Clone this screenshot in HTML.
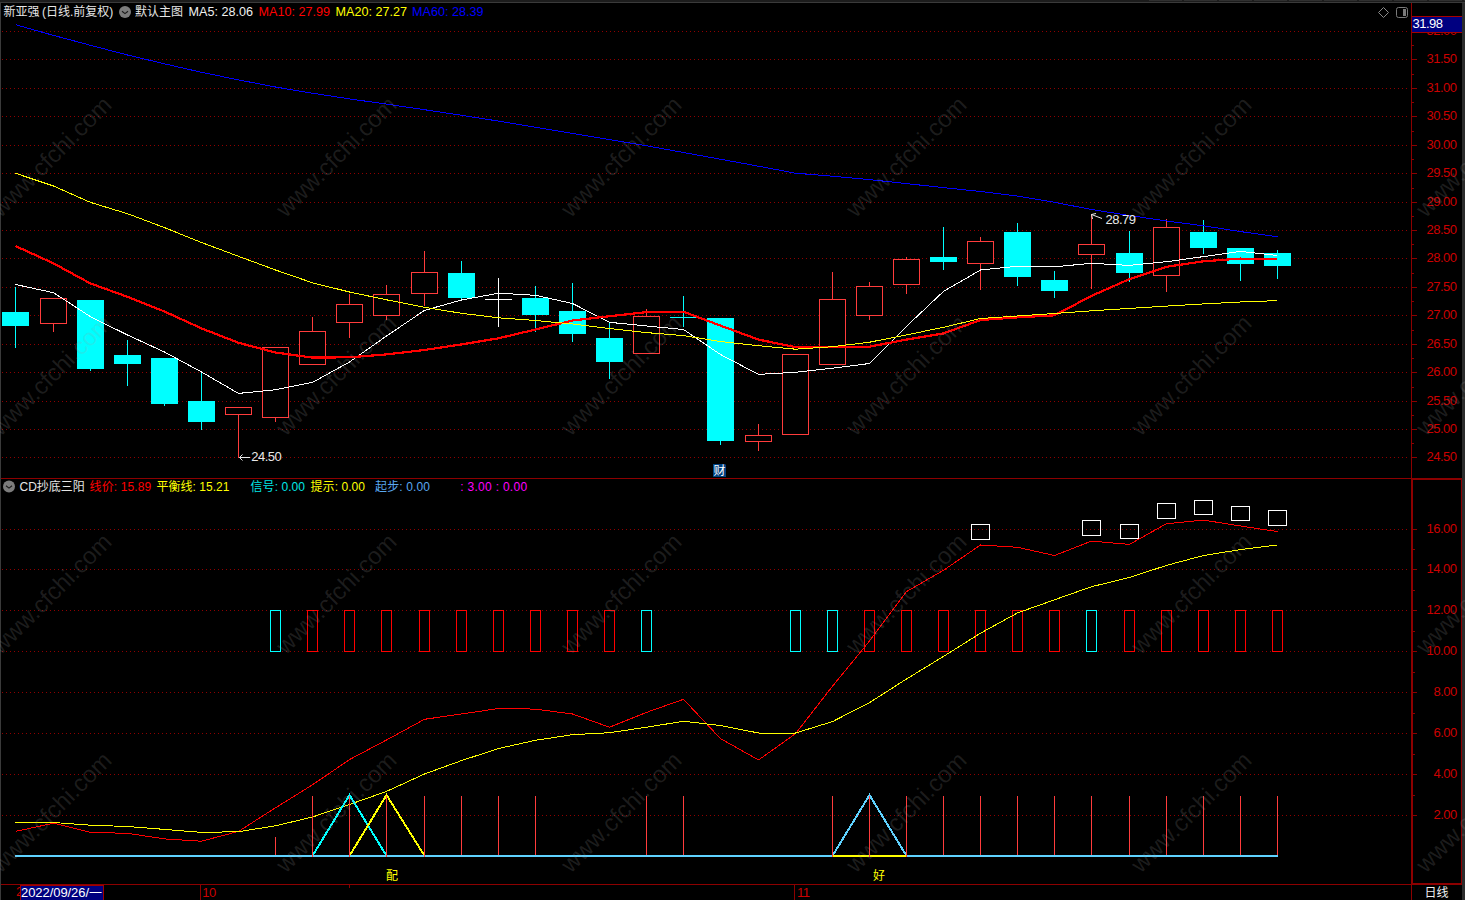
<!DOCTYPE html>
<html lang="zh"><head><meta charset="utf-8"><title>新亚强 日线</title>
<style>html,body{margin:0;padding:0;background:#000;overflow:hidden}body{width:1465px;height:900px;position:relative}</style></head>
<body>
<svg width="1465" height="900" viewBox="0 0 1465 900" style="position:absolute;left:0;top:0;display:block">
<rect width="1465" height="900" fill="#000"/>
<rect x="0" y="0" width="1465" height="2" fill="#1c1c1c"/>
<rect x="0" y="2" width="1465" height="1" fill="#3a3a3a"/>
<rect x="1149" y="0" width="33" height="1" fill="#303030"/>
<rect x="1184" y="0" width="33" height="1" fill="#303030"/>
<rect x="1219" y="0" width="33" height="1" fill="#303030"/>
<rect x="1254" y="0" width="33" height="1" fill="#303030"/>
<rect x="1289" y="0" width="33" height="1" fill="#303030"/>
<rect x="1324" y="0" width="33" height="1" fill="#303030"/>
<rect x="1359" y="0" width="33" height="1" fill="#303030"/>
<rect x="1394" y="0" width="33" height="1" fill="#303030"/>
<rect x="1429" y="0" width="33" height="1" fill="#303030"/>
<rect x="1464" y="0" width="33" height="1" fill="#303030"/>
<rect x="0" y="3" width="1" height="897" fill="#3a3a3a"/>
<rect x="1462" y="3" width="3" height="897" fill="#2c2c2c"/>
<g stroke="#900000" stroke-width="1" stroke-dasharray="1 3" shape-rendering="crispEdges">
<line x1="2" x2="1408" y1="31.5" y2="31.5"/>
<line x1="2" x2="1408" y1="59.5" y2="59.5"/>
<line x1="2" x2="1408" y1="88.5" y2="88.5"/>
<line x1="2" x2="1408" y1="116.5" y2="116.5"/>
<line x1="2" x2="1408" y1="145.5" y2="145.5"/>
<line x1="2" x2="1408" y1="173.5" y2="173.5"/>
<line x1="2" x2="1408" y1="202.5" y2="202.5"/>
<line x1="2" x2="1408" y1="230.5" y2="230.5"/>
<line x1="2" x2="1408" y1="258.5" y2="258.5"/>
<line x1="2" x2="1408" y1="287.5" y2="287.5"/>
<line x1="2" x2="1408" y1="315.5" y2="315.5"/>
<line x1="2" x2="1408" y1="344.5" y2="344.5"/>
<line x1="2" x2="1408" y1="372.5" y2="372.5"/>
<line x1="2" x2="1408" y1="401.5" y2="401.5"/>
<line x1="2" x2="1408" y1="429.5" y2="429.5"/>
<line x1="2" x2="1408" y1="457.5" y2="457.5"/>
<line x1="2" x2="1408" y1="529.5" y2="529.5"/>
<line x1="2" x2="1408" y1="569.5" y2="569.5"/>
<line x1="2" x2="1408" y1="610.5" y2="610.5"/>
<line x1="2" x2="1408" y1="651.5" y2="651.5"/>
<line x1="2" x2="1408" y1="692.5" y2="692.5"/>
<line x1="2" x2="1408" y1="733.5" y2="733.5"/>
<line x1="2" x2="1408" y1="774.5" y2="774.5"/>
<line x1="2" x2="1408" y1="815.5" y2="815.5"/>
</g>
<g stroke="#8c0000" stroke-width="1" shape-rendering="crispEdges" fill="none">
<line x1="1411.5" x2="1411.5" y1="3" y2="900"/>
<line x1="1" x2="1412" y1="478.5" y2="478.5"/>
<line x1="1" x2="1412" y1="884.5" y2="884.5"/>
<path d="M1411 478 h51 v407 h-51 z M1413 480 v403 h48 v-403 z" fill="#8c0000" fill-rule="evenodd" stroke="none"/>
<line x1="1412" x2="1414" y1="45.5" y2="45.5"/>
<line x1="1412" x2="1417" y1="59.5" y2="59.5"/>
<line x1="1412" x2="1414" y1="74.5" y2="74.5"/>
<line x1="1412" x2="1417" y1="88.5" y2="88.5"/>
<line x1="1412" x2="1414" y1="102.5" y2="102.5"/>
<line x1="1412" x2="1417" y1="116.5" y2="116.5"/>
<line x1="1412" x2="1414" y1="131.5" y2="131.5"/>
<line x1="1412" x2="1417" y1="145.5" y2="145.5"/>
<line x1="1412" x2="1414" y1="159.5" y2="159.5"/>
<line x1="1412" x2="1417" y1="173.5" y2="173.5"/>
<line x1="1412" x2="1414" y1="188.5" y2="188.5"/>
<line x1="1412" x2="1417" y1="202.5" y2="202.5"/>
<line x1="1412" x2="1414" y1="216.5" y2="216.5"/>
<line x1="1412" x2="1417" y1="230.5" y2="230.5"/>
<line x1="1412" x2="1414" y1="244.5" y2="244.5"/>
<line x1="1412" x2="1417" y1="258.5" y2="258.5"/>
<line x1="1412" x2="1414" y1="273.5" y2="273.5"/>
<line x1="1412" x2="1417" y1="287.5" y2="287.5"/>
<line x1="1412" x2="1414" y1="301.5" y2="301.5"/>
<line x1="1412" x2="1417" y1="315.5" y2="315.5"/>
<line x1="1412" x2="1414" y1="330.5" y2="330.5"/>
<line x1="1412" x2="1417" y1="344.5" y2="344.5"/>
<line x1="1412" x2="1414" y1="358.5" y2="358.5"/>
<line x1="1412" x2="1417" y1="372.5" y2="372.5"/>
<line x1="1412" x2="1414" y1="387.5" y2="387.5"/>
<line x1="1412" x2="1417" y1="401.5" y2="401.5"/>
<line x1="1412" x2="1414" y1="415.5" y2="415.5"/>
<line x1="1412" x2="1417" y1="429.5" y2="429.5"/>
<line x1="1412" x2="1414" y1="443.5" y2="443.5"/>
<line x1="1412" x2="1417" y1="457.5" y2="457.5"/>
<line x1="1413" x2="1417" y1="529.5" y2="529.5"/>
<line x1="1413" x2="1415" y1="549.5" y2="549.5"/>
<line x1="1413" x2="1417" y1="569.5" y2="569.5"/>
<line x1="1413" x2="1415" y1="590.5" y2="590.5"/>
<line x1="1413" x2="1417" y1="610.5" y2="610.5"/>
<line x1="1413" x2="1415" y1="631.5" y2="631.5"/>
<line x1="1413" x2="1417" y1="651.5" y2="651.5"/>
<line x1="1413" x2="1415" y1="672.5" y2="672.5"/>
<line x1="1413" x2="1417" y1="692.5" y2="692.5"/>
<line x1="1413" x2="1415" y1="713.5" y2="713.5"/>
<line x1="1413" x2="1417" y1="733.5" y2="733.5"/>
<line x1="1413" x2="1415" y1="754.5" y2="754.5"/>
<line x1="1413" x2="1417" y1="774.5" y2="774.5"/>
<line x1="1413" x2="1415" y1="795.5" y2="795.5"/>
<line x1="1413" x2="1417" y1="815.5" y2="815.5"/>
<line x1="200.5" x2="200.5" y1="885" y2="900"/>
<line x1="794.5" x2="794.5" y1="885" y2="900"/>
<line x1="349.5" x2="349.5" y1="885" y2="888"/>
</g>
<g fill="#cc0000" font-family="Liberation Sans, sans-serif" font-size="13" letter-spacing="-0.5">
<text x="1426.5" y="63.1">31.50</text>
<text x="1426.5" y="92.1">31.00</text>
<text x="1426.5" y="120.1">30.50</text>
<text x="1426.5" y="149.1">30.00</text>
<text x="1426.5" y="177.1">29.50</text>
<text x="1426.5" y="206.1">29.00</text>
<text x="1426.5" y="234.1">28.50</text>
<text x="1426.5" y="262.1">28.00</text>
<text x="1426.5" y="291.1">27.50</text>
<text x="1426.5" y="319.1">27.00</text>
<text x="1426.5" y="348.1">26.50</text>
<text x="1426.5" y="376.1">26.00</text>
<text x="1426.5" y="405.1">25.50</text>
<text x="1426.5" y="433.1">25.00</text>
<text x="1426.5" y="461.1">24.50</text>
<text x="1426.5" y="533.1">16.00</text>
<text x="1426.5" y="573.1">14.00</text>
<text x="1426.5" y="614.1">12.00</text>
<text x="1426.5" y="655.1">10.00</text>
<text x="1433.5" y="696.1">8.00</text>
<text x="1433.5" y="737.1">6.00</text>
<text x="1433.5" y="778.1">4.00</text>
<text x="1433.5" y="819.1">2.00</text>
</g>
<text x="1426.5" y="34.8" fill="#cc0000" font-family="Liberation Sans, sans-serif" font-size="13" letter-spacing="-0.5">32.00</text>
<rect x="1412" y="16" width="50" height="17" fill="#000080"/>
<g stroke="#a80000" shape-rendering="crispEdges"><line x1="1412" x2="1462" y1="16.5" y2="16.5"/><line x1="1412" x2="1462" y1="32.5" y2="32.5"/></g>
<text x="1412.5" y="27.8" fill="#fff" font-family="Liberation Sans, sans-serif" font-size="13" letter-spacing="-0.5">31.98</text>
<g shape-rendering="crispEdges" stroke-width="1" fill="none">
<line x1="15.5" x2="15.5" y1="287" y2="348" stroke="#00ffff"/>
<rect x="2" y="312" width="27" height="14" fill="#00ffff"/>
<line x1="53.5" x2="53.5" y1="324" y2="332" stroke="#ff3c3c"/>
<rect x="40.5" y="298.5" width="26" height="25" stroke="#ff3c3c" fill="#000"/>
<line x1="90.5" x2="90.5" y1="300" y2="371" stroke="#00ffff"/>
<rect x="77" y="300" width="27" height="69" fill="#00ffff"/>
<line x1="127.5" x2="127.5" y1="340" y2="386" stroke="#00ffff"/>
<rect x="114" y="355" width="27" height="9" fill="#00ffff"/>
<line x1="164.5" x2="164.5" y1="358" y2="406" stroke="#00ffff"/>
<rect x="151" y="358" width="27" height="46" fill="#00ffff"/>
<line x1="201.5" x2="201.5" y1="372" y2="430" stroke="#00ffff"/>
<rect x="188" y="401" width="27" height="21" fill="#00ffff"/>
<line x1="238.5" x2="238.5" y1="415" y2="458" stroke="#ff3c3c"/>
<rect x="225.5" y="407.5" width="26" height="7" stroke="#ff3c3c" fill="#000"/>
<line x1="275.5" x2="275.5" y1="418" y2="422" stroke="#ff3c3c"/>
<rect x="262.5" y="347.5" width="26" height="70" stroke="#ff3c3c" fill="#000"/>
<line x1="312.5" x2="312.5" y1="317" y2="331" stroke="#ff3c3c"/>
<rect x="299.5" y="331.5" width="26" height="33" stroke="#ff3c3c" fill="#000"/>
<line x1="349.5" x2="349.5" y1="294" y2="304" stroke="#ff3c3c"/>
<line x1="349.5" x2="349.5" y1="323" y2="338" stroke="#ff3c3c"/>
<rect x="336.5" y="304.5" width="26" height="18" stroke="#ff3c3c" fill="#000"/>
<line x1="386.5" x2="386.5" y1="285" y2="294" stroke="#ff3c3c"/>
<line x1="386.5" x2="386.5" y1="316" y2="320" stroke="#ff3c3c"/>
<rect x="373.5" y="294.5" width="26" height="21" stroke="#ff3c3c" fill="#000"/>
<line x1="424.5" x2="424.5" y1="251" y2="272" stroke="#ff3c3c"/>
<line x1="424.5" x2="424.5" y1="294" y2="306" stroke="#ff3c3c"/>
<rect x="411.5" y="272.5" width="26" height="21" stroke="#ff3c3c" fill="#000"/>
<line x1="461.5" x2="461.5" y1="261" y2="299" stroke="#00ffff"/>
<rect x="448" y="273" width="27" height="25" fill="#00ffff"/>
<line x1="498.5" x2="498.5" y1="278" y2="327" stroke="#ffffff"/>
<line x1="485" x2="512" y1="299.5" y2="299.5" stroke="#ffffff"/>
<line x1="535.5" x2="535.5" y1="286" y2="332" stroke="#00ffff"/>
<rect x="522" y="298" width="27" height="17" fill="#00ffff"/>
<line x1="572.5" x2="572.5" y1="283" y2="342" stroke="#00ffff"/>
<rect x="559" y="311" width="27" height="23" fill="#00ffff"/>
<line x1="609.5" x2="609.5" y1="323" y2="379" stroke="#00ffff"/>
<rect x="596" y="338" width="27" height="24" fill="#00ffff"/>
<line x1="646.5" x2="646.5" y1="309" y2="316" stroke="#ff3c3c"/>
<rect x="633.5" y="316.5" width="26" height="37" stroke="#ff3c3c" fill="#000"/>
<line x1="683.5" x2="683.5" y1="296" y2="327" stroke="#00ffff"/>
<line x1="670" x2="697" y1="317.5" y2="317.5" stroke="#00ffff"/>
<line x1="720.5" x2="720.5" y1="318" y2="445" stroke="#00ffff"/>
<rect x="707" y="318" width="27" height="123" fill="#00ffff"/>
<line x1="758.5" x2="758.5" y1="424" y2="435" stroke="#ff3c3c"/>
<line x1="758.5" x2="758.5" y1="442" y2="451" stroke="#ff3c3c"/>
<rect x="745.5" y="435.5" width="26" height="6" stroke="#ff3c3c" fill="#000"/>
<rect x="782.5" y="354.5" width="26" height="80" stroke="#ff3c3c" fill="#000"/>
<line x1="832.5" x2="832.5" y1="272" y2="299" stroke="#ff3c3c"/>
<rect x="819.5" y="299.5" width="26" height="65" stroke="#ff3c3c" fill="#000"/>
<line x1="869.5" x2="869.5" y1="282" y2="286" stroke="#ff3c3c"/>
<line x1="869.5" x2="869.5" y1="316" y2="320" stroke="#ff3c3c"/>
<rect x="856.5" y="286.5" width="26" height="29" stroke="#ff3c3c" fill="#000"/>
<line x1="906.5" x2="906.5" y1="257" y2="259" stroke="#ff3c3c"/>
<line x1="906.5" x2="906.5" y1="285" y2="294" stroke="#ff3c3c"/>
<rect x="893.5" y="259.5" width="26" height="25" stroke="#ff3c3c" fill="#000"/>
<line x1="943.5" x2="943.5" y1="227" y2="270" stroke="#00ffff"/>
<rect x="930" y="257" width="27" height="5" fill="#00ffff"/>
<line x1="980.5" x2="980.5" y1="237" y2="241" stroke="#ff3c3c"/>
<line x1="980.5" x2="980.5" y1="264" y2="290" stroke="#ff3c3c"/>
<rect x="967.5" y="241.5" width="26" height="22" stroke="#ff3c3c" fill="#000"/>
<line x1="1017.5" x2="1017.5" y1="223" y2="286" stroke="#00ffff"/>
<rect x="1004" y="232" width="27" height="45" fill="#00ffff"/>
<line x1="1054.5" x2="1054.5" y1="271" y2="298" stroke="#00ffff"/>
<rect x="1041" y="280" width="27" height="11" fill="#00ffff"/>
<line x1="1091.5" x2="1091.5" y1="214" y2="244" stroke="#ff3c3c"/>
<line x1="1091.5" x2="1091.5" y1="255" y2="289" stroke="#ff3c3c"/>
<rect x="1078.5" y="244.5" width="26" height="10" stroke="#ff3c3c" fill="#000"/>
<line x1="1129.5" x2="1129.5" y1="231" y2="282" stroke="#00ffff"/>
<rect x="1116" y="253" width="27" height="20" fill="#00ffff"/>
<line x1="1166.5" x2="1166.5" y1="219" y2="227" stroke="#ff3c3c"/>
<line x1="1166.5" x2="1166.5" y1="276" y2="292" stroke="#ff3c3c"/>
<rect x="1153.5" y="227.5" width="26" height="48" stroke="#ff3c3c" fill="#000"/>
<line x1="1203.5" x2="1203.5" y1="220" y2="254" stroke="#00ffff"/>
<rect x="1190" y="232" width="27" height="16" fill="#00ffff"/>
<line x1="1240.5" x2="1240.5" y1="248" y2="281" stroke="#00ffff"/>
<rect x="1227" y="248" width="27" height="16" fill="#00ffff"/>
<line x1="1277.5" x2="1277.5" y1="250" y2="279" stroke="#00ffff"/>
<rect x="1264" y="253" width="27" height="13" fill="#00ffff"/>
</g>
<polyline points="15.5,284.5 53.5,292.7 90.5,316.7 127.5,335.0 164.5,352.0 201.5,372.0 238.5,393.4 275.5,389.8 312.5,382.4 349.5,362.0 386.5,336.0 424.5,310.4 461.5,300.0 498.5,293.2 535.5,295.3 572.5,303.5 609.5,322.3 646.5,326.0 683.5,329.5 720.5,354.5 758.5,374.4 795.5,372.3 832.5,368.2 869.5,363.5 906.5,326.3 943.5,291.4 980.5,270.0 1017.5,266.2 1054.5,266.8 1091.5,263.3 1129.5,265.4 1166.5,261.7 1203.5,256.6 1240.5,251.4 1277.5,255.5" fill="none" stroke="#ffffff" stroke-width="1" stroke-linejoin="round" shape-rendering="crispEdges"/>
<polyline points="15.5,246.0 53.5,263.4 90.5,283.5 127.5,296.8 164.5,311.5 201.5,328.4 238.5,342.8 275.5,352.5 312.5,357.6 349.5,357.3 386.5,354.4 424.5,350.0 461.5,344.4 498.5,338.3 535.5,329.5 572.5,320.5 609.5,316.2 646.5,312.1 683.5,311.7 720.5,325.6 758.5,339.6 795.5,347.1 832.5,347.1 869.5,346.7 906.5,339.6 943.5,333.4 980.5,320.0 1017.5,317.4 1054.5,315.3 1091.5,295.9 1129.5,279.1 1166.5,266.8 1203.5,261.3 1240.5,258.6 1277.5,259.0" fill="none" stroke="#ff0000" stroke-width="2.2" stroke-linejoin="round" shape-rendering="crispEdges"/>
<polyline points="15.5,173.3 53.5,186.0 90.5,202.4 127.5,213.7 164.5,227.6 201.5,242.5 238.5,256.3 275.5,270.0 312.5,282.8 349.5,292.0 386.5,299.8 424.5,307.3 461.5,313.3 498.5,317.8 535.5,320.5 572.5,324.0 609.5,328.5 646.5,332.6 683.5,335.6 720.5,341.5 758.5,345.7 795.5,349.2 832.5,346.7 869.5,342.2 906.5,334.9 943.5,327.3 980.5,318.5 1017.5,316.0 1054.5,313.5 1091.5,310.8 1129.5,308.4 1166.5,306.1 1203.5,303.9 1240.5,302.0 1277.5,300.6" fill="none" stroke="#ffff00" stroke-width="1" stroke-linejoin="round" shape-rendering="crispEdges"/>
<polyline points="15.5,24.7 53.5,35.4 90.5,45.3 127.5,55.0 164.5,63.8 201.5,72.3 238.5,79.9 275.5,87.0 312.5,93.2 349.5,98.9 386.5,104.1 424.5,109.7 461.5,115.3 498.5,121.1 535.5,127.2 572.5,133.4 609.5,139.6 646.5,145.8 683.5,152.5 720.5,159.2 758.5,166.2 795.5,173.2 832.5,176.2 869.5,179.6 906.5,183.6 943.5,187.6 980.5,191.5 1017.5,196.1 1054.5,202.3 1091.5,209.5 1129.5,215.5 1166.5,221.0 1203.5,225.8 1240.5,231.6 1277.5,236.7" fill="none" stroke="#0000ff" stroke-width="1" stroke-linejoin="round" shape-rendering="crispEdges"/>
<g stroke="#e8e8e8" stroke-width="1" fill="none">
<path d="M239.5 457.5 H250 M239.5 457.5 l3 -3 M239.5 457.5 l3 3"/>
<path d="M1091.5 214.5 L1102 218.5 M1091.5 214.5 l1 4.5 M1091.5 214.5 l4.5 -1"/>
</g>
<g fill="#e8e8e8" font-family="Liberation Sans, sans-serif" font-size="13" letter-spacing="-0.5">
<text x="251.3" y="460.6">24.50</text>
<text x="1105.5" y="224.3">28.79</text>
</g>
<path d="M713 464 h12 l1 1 v12 h-13 z" fill="#004080"/>
<text x="713.5" y="475" fill="#fff" font-family="Liberation Sans, Noto Sans CJK SC, sans-serif" font-size="12">财</text>
<g shape-rendering="crispEdges" stroke-width="1" fill="none">
<rect x="270.5" y="610.5" width="10" height="41" stroke="#00ffff"/>
<rect x="307.5" y="610.5" width="10" height="41" stroke="#ff0000"/>
<rect x="344.5" y="610.5" width="10" height="41" stroke="#ff0000"/>
<rect x="381.5" y="610.5" width="10" height="41" stroke="#ff0000"/>
<rect x="419.5" y="610.5" width="10" height="41" stroke="#ff0000"/>
<rect x="456.5" y="610.5" width="10" height="41" stroke="#ff0000"/>
<rect x="493.5" y="610.5" width="10" height="41" stroke="#ff0000"/>
<rect x="530.5" y="610.5" width="10" height="41" stroke="#ff0000"/>
<rect x="567.5" y="610.5" width="10" height="41" stroke="#ff0000"/>
<rect x="604.5" y="610.5" width="10" height="41" stroke="#ff0000"/>
<rect x="641.5" y="610.5" width="10" height="41" stroke="#00ffff"/>
<rect x="790.5" y="610.5" width="10" height="41" stroke="#00ffff"/>
<rect x="827.5" y="610.5" width="10" height="41" stroke="#00ffff"/>
<rect x="864.5" y="610.5" width="10" height="41" stroke="#ff0000"/>
<rect x="901.5" y="610.5" width="10" height="41" stroke="#ff0000"/>
<rect x="938.5" y="610.5" width="10" height="41" stroke="#ff0000"/>
<rect x="975.5" y="610.5" width="10" height="41" stroke="#ff0000"/>
<rect x="1012.5" y="610.5" width="10" height="41" stroke="#ff0000"/>
<rect x="1049.5" y="610.5" width="10" height="41" stroke="#ff0000"/>
<rect x="1086.5" y="610.5" width="10" height="41" stroke="#00ffff"/>
<rect x="1124.5" y="610.5" width="10" height="41" stroke="#ff0000"/>
<rect x="1161.5" y="610.5" width="10" height="41" stroke="#ff0000"/>
<rect x="1198.5" y="610.5" width="10" height="41" stroke="#ff0000"/>
<rect x="1235.5" y="610.5" width="10" height="41" stroke="#ff0000"/>
<rect x="1272.5" y="610.5" width="10" height="41" stroke="#ff0000"/>
<line x1="312.5" x2="312.5" y1="796" y2="857" stroke="#ff3c3c"/>
<line x1="349.5" x2="349.5" y1="796" y2="857" stroke="#ff3c3c"/>
<line x1="386.5" x2="386.5" y1="796" y2="857" stroke="#ff3c3c"/>
<line x1="424.5" x2="424.5" y1="796" y2="857" stroke="#ff3c3c"/>
<line x1="461.5" x2="461.5" y1="796" y2="857" stroke="#ff3c3c"/>
<line x1="498.5" x2="498.5" y1="796" y2="857" stroke="#ff3c3c"/>
<line x1="535.5" x2="535.5" y1="796" y2="857" stroke="#ff3c3c"/>
<line x1="646.5" x2="646.5" y1="796" y2="857" stroke="#ff3c3c"/>
<line x1="683.5" x2="683.5" y1="796" y2="857" stroke="#ff3c3c"/>
<line x1="832.5" x2="832.5" y1="796" y2="857" stroke="#ff3c3c"/>
<line x1="869.5" x2="869.5" y1="796" y2="857" stroke="#ff3c3c"/>
<line x1="906.5" x2="906.5" y1="796" y2="857" stroke="#ff3c3c"/>
<line x1="943.5" x2="943.5" y1="796" y2="857" stroke="#ff3c3c"/>
<line x1="980.5" x2="980.5" y1="796" y2="857" stroke="#ff3c3c"/>
<line x1="1017.5" x2="1017.5" y1="796" y2="857" stroke="#ff3c3c"/>
<line x1="1054.5" x2="1054.5" y1="796" y2="857" stroke="#ff3c3c"/>
<line x1="1091.5" x2="1091.5" y1="796" y2="857" stroke="#ff3c3c"/>
<line x1="1129.5" x2="1129.5" y1="796" y2="857" stroke="#ff3c3c"/>
<line x1="1166.5" x2="1166.5" y1="796" y2="857" stroke="#ff3c3c"/>
<line x1="1203.5" x2="1203.5" y1="796" y2="857" stroke="#ff3c3c"/>
<line x1="1240.5" x2="1240.5" y1="796" y2="857" stroke="#ff3c3c"/>
<line x1="1277.5" x2="1277.5" y1="796" y2="857" stroke="#ff3c3c"/>
<line x1="275.5" x2="275.5" y1="837" y2="857" stroke="#ff3c3c"/>
<rect x="971.5" y="524.5" width="18" height="15" stroke="#fff"/>
<rect x="1082.5" y="520.5" width="18" height="15" stroke="#fff"/>
<rect x="1120.5" y="524.5" width="18" height="14" stroke="#fff"/>
<rect x="1157.5" y="503.5" width="18" height="15" stroke="#fff"/>
<rect x="1194.5" y="500.5" width="18" height="14" stroke="#fff"/>
<rect x="1231.5" y="506.5" width="18" height="14" stroke="#fff"/>
<rect x="1268.5" y="510.5" width="18" height="15" stroke="#fff"/>
</g>
<polyline points="15.5,831.4 53.5,823.2 90.5,832.4 127.5,833.3 164.5,838.9 201.5,841.2 238.5,831.4 275.5,807.8 312.5,784.8 349.5,759.6 386.5,740.0 424.5,719.3 461.5,714.0 498.5,708.5 535.5,709.1 572.5,714.0 609.5,727.2 646.5,712.4 683.5,699.3 720.5,738.6 758.5,760.0 795.5,733.7 832.5,686.2 869.5,641.0 906.5,591.6 943.5,570.3 980.5,545.0 1017.5,547.3 1054.5,555.5 1091.5,541.1 1129.5,544.4 1166.5,523.7 1203.5,520.1 1240.5,526.0 1277.5,531.6" fill="none" stroke="#ff0000" stroke-width="1" stroke-linejoin="round" shape-rendering="crispEdges"/>
<polyline points="15.5,822.2 53.5,822.5 90.5,825.2 127.5,826.5 164.5,829.4 201.5,832.4 238.5,831.7 275.5,825.8 312.5,817.0 349.5,804.5 386.5,791.4 424.5,774.0 461.5,760.6 498.5,748.5 535.5,740.3 572.5,734.7 609.5,732.7 646.5,727.2 683.5,721.3 720.5,725.5 758.5,733.0 795.5,733.0 832.5,721.6 869.5,702.6 906.5,679.0 943.5,656.4 980.5,633.2 1017.5,612.9 1054.5,599.8 1091.5,586.7 1129.5,577.5 1166.5,565.4 1203.5,555.5 1240.5,549.6 1277.5,545.0" fill="none" stroke="#ffff00" stroke-width="1" stroke-linejoin="round" shape-rendering="crispEdges"/>
<line x1="15" x2="1278" y1="856" y2="856" stroke="#5fd2ff" stroke-width="2" shape-rendering="crispEdges"/>
<line x1="832.5" x2="906.5" y1="856" y2="856" stroke="#ffff00" stroke-width="2" shape-rendering="crispEdges"/>
<polyline points="313.0,855 349.5,795 386.0,855" fill="none" stroke="#00ffff" stroke-width="2" shape-rendering="crispEdges"/>
<polyline points="350.0,855 386.5,795 424.0,855" fill="none" stroke="#ffff00" stroke-width="2" shape-rendering="crispEdges"/>
<polyline points="833.0,855 869.5,795 906.0,855" fill="none" stroke="#5fd2ff" stroke-width="2" shape-rendering="crispEdges"/>
<g shape-rendering="crispEdges" stroke-width="1">
<line x1="312.5" x2="312.5" y1="796" y2="857" stroke="#ff3c3c"/>
<line x1="349.5" x2="349.5" y1="796" y2="857" stroke="#ff3c3c"/>
<line x1="386.5" x2="386.5" y1="796" y2="857" stroke="#ff3c3c"/>
<line x1="424.5" x2="424.5" y1="796" y2="857" stroke="#ff3c3c"/>
<line x1="832.5" x2="832.5" y1="796" y2="857" stroke="#ff3c3c"/>
<line x1="869.5" x2="869.5" y1="796" y2="857" stroke="#ff3c3c"/>
<line x1="906.5" x2="906.5" y1="796" y2="857" stroke="#ff3c3c"/>
</g>
<g fill="#ffff00" font-family="Liberation Sans, Noto Sans CJK SC, sans-serif" font-size="12">
<text x="386" y="880">配</text><text x="873" y="880">好</text></g>
<text x="16" y="896" fill="#cc0000" font-family="Liberation Sans, sans-serif" font-size="13" letter-spacing="-0.5">2</text>
<rect x="20" y="885" width="84" height="15" fill="#000080"/>
<rect x="20.5" y="885.5" width="83" height="15" fill="none" stroke="#a00000" shape-rendering="crispEdges"/>
<text x="21" y="896.5" fill="#fff" font-family="Liberation Sans, Noto Sans CJK SC, sans-serif" font-size="13" textLength="81">2022/09/26/一</text>
<g fill="#cc0000" font-family="Liberation Sans, sans-serif" font-size="13" letter-spacing="-0.5"><text x="202.3" y="896.5">10</text><text x="797" y="896.5">11</text></g>
<text x="1424.5" y="897" fill="#f0f0f0" font-family="Liberation Sans, Noto Sans CJK SC, sans-serif" font-size="12">日线</text>
<g font-family="Liberation Sans, Noto Sans CJK SC, sans-serif" font-size="12">
<text x="3.5" y="16" fill="#e6e6e6">新亚强</text>
<text x="42" y="16" fill="#e6e6e6">(日线.前复权)</text>
<text x="135" y="16" fill="#e6e6e6">默认主图</text>
</g>
<g font-family="Liberation Sans, Noto Sans CJK SC, sans-serif" font-size="12.6">
<text x="188.5" y="16" fill="#f0f0f0">MA5: 28.06</text>
<text x="258.5" y="16" fill="#ff0000">MA10: 27.99</text>
<text x="335.5" y="16" fill="#ffff00">MA20: 27.27</text>
<text x="412" y="16" fill="#0000ff">MA60: 28.39</text>
</g>
<circle cx="125" cy="12" r="6" fill="#7c7c7c"/><path d="M122 11.2 l3 2.4 l3 -2.4" stroke="#1a1a1a" stroke-width="1.1" fill="none"/>
<circle cx="9" cy="486.5" r="6" fill="#7c7c7c"/><path d="M6 485.7 l3 2.4 l3 -2.4" stroke="#1a1a1a" stroke-width="1.1" fill="none"/>
<path d="M1383.5 7.5 l5 5 l-5 5 l-5 -5 z" fill="none" stroke="#8a8a8a" stroke-width="1"/>
<rect x="1396.5" y="7.5" width="11" height="10" rx="2" fill="none" stroke="#7a7a7a"/>
<rect x="1403" y="9" width="3" height="7" fill="#7a7a7a"/>
<g font-family="Liberation Sans, Noto Sans CJK SC, sans-serif" font-size="12">
<text x="19.5" y="490.6" fill="#e6e6e6">CD抄底三阳</text>
<text x="89.5" y="490.6" fill="#ff0000" textLength="61.8">线价: 15.89</text>
<text x="156.5" y="490.6" fill="#ffff00" textLength="72.9">平衡线: 15.21</text>
<text x="250.5" y="490.6" fill="#00e6e6" textLength="54.5">信号: 0.00</text>
<text x="310.5" y="490.6" fill="#ffff00" textLength="54.5">提示: 0.00</text>
<text x="375" y="490.6" fill="#5aa8f0" textLength="54.9">起步: 0.00</text>
<text x="460.3" y="490.6" fill="#ff00ff" textLength="66.8">: 3.00 : 0.00</text>
</g>
<g fill="rgba(154,154,154,0.19)" font-family="Liberation Sans, sans-serif" font-size="24" text-anchor="middle">
<text transform="translate(50.6,156.0) rotate(-45)" x="0" y="9">www.cfchi.com</text>
<text transform="translate(50.6,374.5) rotate(-45)" x="0" y="9">www.cfchi.com</text>
<text transform="translate(50.6,593.0) rotate(-45)" x="0" y="9">www.cfchi.com</text>
<text transform="translate(50.6,811.5) rotate(-45)" x="0" y="9">www.cfchi.com</text>
<text transform="translate(335.6,156.0) rotate(-45)" x="0" y="9">www.cfchi.com</text>
<text transform="translate(335.6,374.5) rotate(-45)" x="0" y="9">www.cfchi.com</text>
<text transform="translate(335.6,593.0) rotate(-45)" x="0" y="9">www.cfchi.com</text>
<text transform="translate(335.6,811.5) rotate(-45)" x="0" y="9">www.cfchi.com</text>
<text transform="translate(620.6,156.0) rotate(-45)" x="0" y="9">www.cfchi.com</text>
<text transform="translate(620.6,374.5) rotate(-45)" x="0" y="9">www.cfchi.com</text>
<text transform="translate(620.6,593.0) rotate(-45)" x="0" y="9">www.cfchi.com</text>
<text transform="translate(620.6,811.5) rotate(-45)" x="0" y="9">www.cfchi.com</text>
<text transform="translate(905.6,156.0) rotate(-45)" x="0" y="9">www.cfchi.com</text>
<text transform="translate(905.6,374.5) rotate(-45)" x="0" y="9">www.cfchi.com</text>
<text transform="translate(905.6,593.0) rotate(-45)" x="0" y="9">www.cfchi.com</text>
<text transform="translate(905.6,811.5) rotate(-45)" x="0" y="9">www.cfchi.com</text>
<text transform="translate(1190.6,156.0) rotate(-45)" x="0" y="9">www.cfchi.com</text>
<text transform="translate(1190.6,374.5) rotate(-45)" x="0" y="9">www.cfchi.com</text>
<text transform="translate(1190.6,593.0) rotate(-45)" x="0" y="9">www.cfchi.com</text>
<text transform="translate(1190.6,811.5) rotate(-45)" x="0" y="9">www.cfchi.com</text>
<text transform="translate(1475.6,156.0) rotate(-45)" x="0" y="9">www.cfchi.com</text>
<text transform="translate(1475.6,374.5) rotate(-45)" x="0" y="9">www.cfchi.com</text>
<text transform="translate(1475.6,593.0) rotate(-45)" x="0" y="9">www.cfchi.com</text>
<text transform="translate(1475.6,811.5) rotate(-45)" x="0" y="9">www.cfchi.com</text>
</g>
</svg>
</body></html>
